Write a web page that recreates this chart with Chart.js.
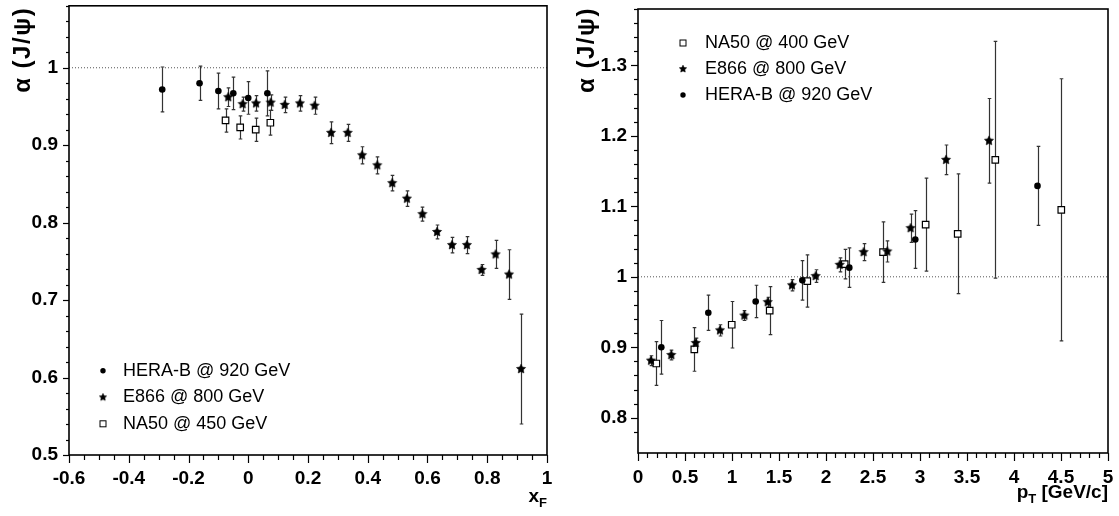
<!DOCTYPE html>
<html>
<head>
<meta charset="utf-8">
<script src="https://cdn.jsdelivr.net/npm/chart.js@4.4.0/dist/chart.umd.min.js"></script>
<style>
  html, body { margin: 0; padding: 0; background: #fff; }
  #c1 { position: absolute; left: 0; top: 0; }
  #c2 { position: absolute; left: 560px; top: 0; }
</style>
</head>
<body>
<canvas id="c1" width="560" height="516"></canvas>
<canvas id="c2" width="559" height="516"></canvas>
<script>
// ---- left panel: alpha vs xF ----
var xfHeraX = [-0.288, -0.163, -0.100, -0.050, 0.000, 0.064];
var xfHeraY = [0.972, 0.980, 0.970, 0.967, 0.961, 0.967];
var xfHeraErr = [0.029, 0.022, 0.023, 0.021, 0.021, 0.029];

var xfE866X = [-0.067, -0.019, 0.026, 0.075, 0.122, 0.173, 0.222, 0.277, 0.333, 0.381, 0.432,
               0.482, 0.531, 0.583, 0.632, 0.682, 0.732, 0.781, 0.828, 0.873, 0.913];
var xfE866Y = [0.962, 0.953, 0.954, 0.955, 0.952, 0.954, 0.951, 0.916, 0.916, 0.887, 0.874,
               0.851, 0.831, 0.811, 0.788, 0.771, 0.771, 0.739, 0.759, 0.733, 0.611];
var xfE866Err = [0.012, 0.009, 0.010, 0.010, 0.010, 0.010, 0.011, 0.014, 0.011, 0.011, 0.011,
                 0.010, 0.010, 0.009, 0.009, 0.010, 0.011, 0.007, 0.018, 0.032, 0.071];

var xfNa50X = [-0.076, -0.027, 0.025, 0.074];
var xfNa50Y = [0.932, 0.923, 0.920, 0.929];
var xfNa50Err = [0.015, 0.015, 0.015, 0.016];

// ---- right panel: alpha vs pT ----
var ptNa50X = [0.195, 0.599, 0.997, 1.401, 1.801, 2.199, 2.607, 3.060, 3.401, 3.801, 4.503];
var ptNa50Y = [0.877, 0.897, 0.932, 0.952, 0.994, 1.018, 1.035, 1.074, 1.061, 1.166, 1.095];
var ptNa50Err = [0.031, 0.031, 0.033, 0.034, 0.037, 0.021, 0.043, 0.066, 0.085, 0.168, 0.186];

var ptE866X = [0.138, 0.354, 0.614, 0.872, 1.131, 1.380, 1.638, 1.890, 2.145, 2.400, 2.652, 2.900, 3.277, 3.734];
var ptE866Y = [0.881, 0.889, 0.906, 0.924, 0.945, 0.964, 0.988, 1.001, 1.017, 1.035, 1.036, 1.069, 1.166, 1.193];
var ptE866Err = [0.007, 0.007, 0.007, 0.008, 0.007, 0.007, 0.008, 0.009, 0.010, 0.012, 0.015, 0.020, 0.021, 0.060];

var ptHeraX = [0.248, 0.748, 1.252, 1.748, 2.248, 2.950, 4.250];
var ptHeraY = [0.900, 0.949, 0.965, 0.995, 1.013, 1.053, 1.129];
var ptHeraErr = [0.038, 0.025, 0.023, 0.028, 0.028, 0.041, 0.056];

var leftLegend = ['HERA-B @ 920 GeV', 'E866 @ 800 GeV', 'NA50 @ 450 GeV'];
var rightLegend = ['NA50 @ 400 GeV', 'E866 @ 800 GeV', 'HERA-B @ 920 GeV'];

var FONT = 'Liberation Sans, Arial, Helvetica, sans-serif';

function makeStar(r) {
  var s = Math.ceil(r * 2 + 2);
  var c = document.createElement('canvas');
  c.width = s; c.height = s;
  var g = c.getContext('2d');
  g.beginPath();
  for (var i = 0; i < 10; i++) {
    var rad = i % 2 === 0 ? r : r * 0.5;
    var a = -Math.PI / 2 + i * Math.PI / 5;
    g.lineTo(s / 2 + rad * Math.cos(a), s / 2 + rad * Math.sin(a));
  }
  g.closePath();
  g.fillStyle = '#000';
  g.fill();
  g.strokeStyle = 'rgba(0,0,0,0.6)';
  g.lineWidth = 1;
  g.stroke();
  return c;
}
var starBig = makeStar(4.8);
var starSmall = makeStar(3.8);

function pts(xs, ys) {
  return xs.map(function (x, i) { return { x: x, y: ys[i] }; });
}

function markerSet(label, xs, ys, errs, kind) {
  var ds = { label: label, data: pts(xs, ys), errors: errs, showLine: false, kind: kind };
  if (kind === 'circle') {
    ds.pointStyle = 'circle'; ds.pointRadius = 3.3; ds.backgroundColor = '#000'; ds.borderColor = '#000'; ds.borderWidth = 0;
  } else if (kind === 'star') {
    ds.pointStyle = starBig; ds.pointRadius = 4;
  } else {
    ds.pointStyle = 'rect'; ds.pointRadius = 4.6; ds.backgroundColor = '#fff'; ds.borderColor = '#000'; ds.borderWidth = 1.2;
  }
  return ds;
}

function refLine(x0, x1) {
  return {
    label: 'ref', data: [{ x: x0, y: 1 }, { x: x1, y: 1 }], showLine: true, pointRadius: 0,
    borderColor: '#555', borderWidth: 1, borderDash: [1, 2], order: 10
  };
}

function isMultiple(v, step) {
  var q = v / step;
  return Math.abs(q - Math.round(q)) < 1e-6;
}

function fmt(v) {
  return String(Math.round(v * 100) / 100);
}

function linScale(min, max, minor, major, pad, fit, horizontal) {
  return {
    type: 'linear', min: min, max: max,
    grid: { display: false, drawTicks: false },
    border: { display: false },
    ticks: {
      stepSize: minor, autoSkip: false, maxRotation: 0, minRotation: 0, padding: pad,
      color: '#000', font: { family: FONT, weight: 'bold', size: 19 },
      callback: function (v) { return isMultiple(v, major) ? fmt(v) : ''; }
    },
    minorStep: minor, majorStep: major,
    afterFit: function (s) {
      if (horizontal) s.height = fit; else s.width = fit;
      s.paddingTop = 0; s.paddingBottom = 0; s.paddingLeft = 0; s.paddingRight = 0;
    }
  };
}

var errorBars = {
  id: 'errorBars',
  beforeDatasetsDraw: function (chart) {
    var ctx = chart.ctx, ys = chart.scales.y;
    ctx.save();
    ctx.strokeStyle = '#333';
    ctx.lineWidth = 1.2;
    chart.data.datasets.forEach(function (ds, i) {
      if (!ds.errors) return;
      chart.getDatasetMeta(i).data.forEach(function (pt, j) {
        var v = ds.data[j].y, e = ds.errors[j];
        var top = ys.getPixelForValue(v + e), bot = ys.getPixelForValue(v - e);
        var x = Math.round(pt.x) + 0.5;
        ctx.beginPath();
        ctx.moveTo(x, top); ctx.lineTo(x, bot);
        ctx.moveTo(x - 1.8, top); ctx.lineTo(x + 1.8, top);
        ctx.moveTo(x - 1.8, bot); ctx.lineTo(x + 1.8, bot);
        ctx.stroke();
      });
    });
    ctx.restore();
  }
};

function drawMarker(ctx, kind, x, y) {
  if (kind === 'circle') {
    ctx.beginPath(); ctx.arc(x, y, 2.7, 0, Math.PI * 2); ctx.fillStyle = '#000'; ctx.fill();
  } else if (kind === 'star') {
    ctx.drawImage(starSmall, x - starSmall.width / 2, y - starSmall.height / 2);
  } else {
    ctx.fillStyle = '#fff'; ctx.fillRect(x - 3, y - 3, 6, 6);
    ctx.strokeStyle = '#000'; ctx.lineWidth = 1; ctx.strokeRect(x - 3, y - 3, 6, 6);
  }
}

var frame = {
  id: 'frame',
  afterDraw: function (chart, args, o) {
    var ctx = chart.ctx, a = chart.chartArea;
    ctx.save();
    // box
    ctx.strokeStyle = '#000';
    ctx.lineWidth = 1.6;
    ctx.strokeRect(a.left, a.top, a.right - a.left, a.bottom - a.top);
    // ticks (outward)
    ctx.lineWidth = 1.2;
    ['x', 'y'].forEach(function (id) {
      var s = chart.scales[id], so = chart.options.scales[id];
      s.ticks.forEach(function (t) {
        if (!isMultiple(t.value, so.minorStep)) return;
        var major = isMultiple(t.value, so.majorStep);
        var p = Math.round(s.getPixelForValue(t.value)) + 0.5;
        ctx.beginPath();
        if (id === 'x') {
          ctx.moveTo(p, a.bottom); ctx.lineTo(p, a.bottom + (major ? o.xMajor : o.xMinor));
        } else {
          ctx.moveTo(a.left, p); ctx.lineTo(a.left - (major ? o.yMajor : o.yMinor), p);
        }
        ctx.stroke();
      });
    });
    // y title
    ctx.fillStyle = '#000';
    ctx.save();
    ctx.translate(a.left - o.yTitleDx, a.top + o.yTitleDy);
    ctx.rotate(-Math.PI / 2);
    ctx.textAlign = 'right';
    ctx.textBaseline = 'middle';
    ctx.font = 'bold 24px ' + FONT;
    ctx.letterSpacing = '1.5px';
    ctx.fillText('\u03b1 (J/\u03c8)', 0, 0);
    ctx.restore();
    // x title, right aligned, with subscript
    var total = 0;
    o.xTitle.forEach(function (p) { ctx.font = 'bold ' + p.size + 'px ' + FONT; p.w = ctx.measureText(p.t).width; total += p.w; });
    var xx = a.right - total;
    ctx.textAlign = 'left';
    ctx.textBaseline = 'alphabetic';
    o.xTitle.forEach(function (p) {
      ctx.font = 'bold ' + p.size + 'px ' + FONT;
      ctx.fillText(p.t, xx, a.bottom + o.xTitleDy + p.dy);
      xx += p.w;
    });
    // legend
    ctx.font = '18px ' + FONT;
    ctx.textBaseline = 'middle';
    o.legend.forEach(function (item, i) {
      var y = a.top + o.legTop + i * o.legStep;
      drawMarker(ctx, item.kind, a.left + o.legSym, y);
      ctx.fillStyle = '#000';
      ctx.fillText(item.text, a.left + o.legText, y);
    });
    ctx.restore();
  }
};

function baseOptions(pad, xs, ys, frameOpts) {
  return {
    responsive: false,
    animation: false,
    layout: { padding: pad },
    scales: { x: xs, y: ys },
    plugins: { legend: { display: false }, tooltip: { enabled: false }, frame: frameOpts },
    events: []
  };
}

new Chart(document.getElementById('c1'), {
  type: 'scatter',
  data: {
    datasets: [
      refLine(-0.6, 1),
      markerSet(leftLegend[2], xfNa50X, xfNa50Y, xfNa50Err, 'square'),
      markerSet(leftLegend[1], xfE866X, xfE866Y, xfE866Err, 'star'),
      markerSet(leftLegend[0], xfHeraX, xfHeraY, xfHeraErr, 'circle')
    ]
  },
  options: baseOptions({ left: 0, right: 13, top: 4, bottom: 0 },
    linScale(-0.6, 1, 0.05, 0.2, 12, 61, true),
    linScale(0.5, 1.08, 0.02, 0.1, 11, 69, false),
    {
      xMajor: 8, xMinor: 5, yMajor: 6, yMinor: 3,
      yTitleDx: 46, yTitleDy: 1,
      xTitleDy: 47,
      xTitle: [{ t: 'x', size: 19, dy: 0 }, { t: 'F', size: 13, dy: 5 }],
      legSym: 34, legText: 54, legTop: 365, legStep: 26.5,
      legend: [
        { kind: 'circle', text: leftLegend[0] },
        { kind: 'star', text: leftLegend[1] },
        { kind: 'square', text: leftLegend[2] }
      ]
    }),
  plugins: [errorBars, frame]
});

new Chart(document.getElementById('c2'), {
  type: 'scatter',
  data: {
    datasets: [
      refLine(0, 5),
      markerSet(rightLegend[1], ptE866X, ptE866Y, ptE866Err, 'star'),
      markerSet(rightLegend[2], ptHeraX, ptHeraY, ptHeraErr, 'circle'),
      markerSet(rightLegend[0], ptNa50X, ptNa50Y, ptNa50Err, 'square')
    ]
  },
  options: baseOptions({ left: 0, right: 11, top: 9, bottom: 0 },
    linScale(0, 5, 0.1, 0.5, 13, 63, true),
    linScale(0.75, 1.38, 0.02, 0.1, 11, 78, false),
    {
      xMajor: 8, xMinor: 5, yMajor: 7, yMinor: 4,
      yTitleDx: 51, yTitleDy: -2,
      xTitleDy: 45,
      xTitle: [{ t: 'p', size: 19, dy: 0 }, { t: 'T', size: 13, dy: 5 }, { t: ' [GeV/c]', size: 19, dy: 0 }],
      legSym: 45, legText: 67, legTop: 34, legStep: 26,
      legend: [
        { kind: 'square', text: rightLegend[0] },
        { kind: 'star', text: rightLegend[1] },
        { kind: 'circle', text: rightLegend[2] }
      ]
    }),
  plugins: [errorBars, frame]
});
</script>
</body>
</html>
